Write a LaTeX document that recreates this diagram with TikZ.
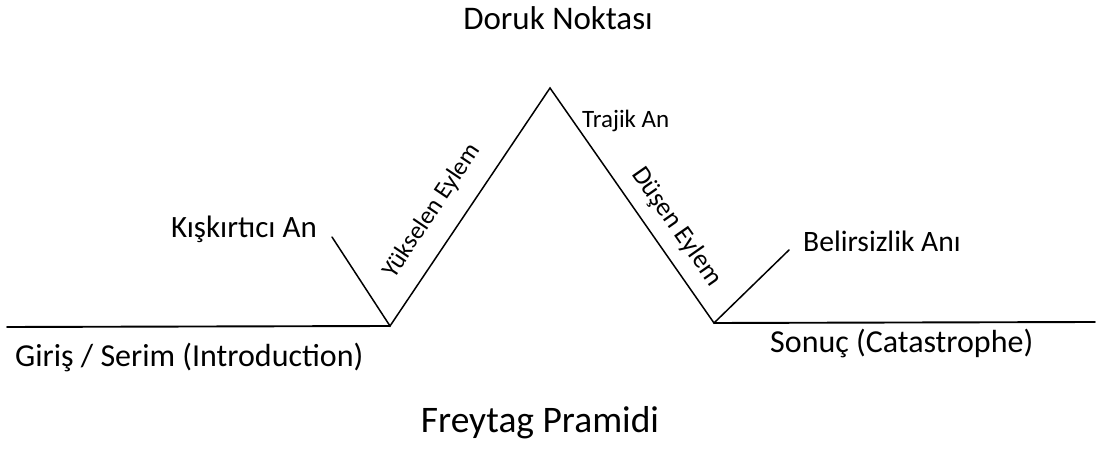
\documentclass[tikz,border=0pt]{standalone}
\usepackage{fontspec}
\setmainfont{Carlito}
\tikzset{
  lbl/.style={inner sep=0pt, font=\fontsize{32}{36}\selectfont},
  small/.style={inner sep=0pt, font=\fontsize{25}{28}\selectfont},
  slanted/.style={inner sep=0pt, font=\fontsize{26.5}{29}\selectfont},
  stroke/.style={line width=1.5pt, line cap=round, line join=miter},
  base/.style={line width=1.9pt, line cap=round}
}
\begin{document}
\begin{tikzpicture}[x=1pt,y=1pt]
\useasboundingbox (0,0) rectangle (1100,452);
% vertices
\coordinate (L0) at (7,125);
\coordinate (V1) at (390,126);
\coordinate (K)  at (332,215);
\coordinate (P)  at (550,364);
\coordinate (V2) at (714,129);
\coordinate (B)  at (789,202);
\coordinate (R)  at (1095,130);
% lines
\draw[base] (L0) -- (V1);
\draw[base] (V2) -- (R);
\draw[stroke] (K) -- (V1) -- (P) -- (V2) -- (B);
% labels
\node[lbl, anchor=base, font=\fontsize{33}{36}\selectfont] (doruk) at (558,422) {Doruk Noktası};
\node[lbl, anchor=base, font=\fontsize{37.5}{40}\selectfont] (title) at (540,19) {Freytag Pramidi};
\node[lbl, anchor=base east, font=\fontsize{31}{34}\selectfont] (kis) at (317,214) {Kışkırtıcı An};
\node[lbl, anchor=base west, font=\fontsize{29.6}{33}\selectfont] (bel) at (803,200) {Belirsizlik Anı};
\node[small, anchor=base west] (traj) at (582,324) {Trajik An};
\node[lbl, anchor=base west] (giris) at (15,85) {Giriş / Serim (Introduction)};
\node[lbl, anchor=base west] (sonuc) at (770,99) {Sonuç (Catastrophe)};
\node[small, rotate=56] (yuk) at (432,241) {Yükselen Eylem};
\node[slanted, rotate=-55] (dus) at (677,225) {Düşen Eylem};
\end{tikzpicture}
\end{document}
